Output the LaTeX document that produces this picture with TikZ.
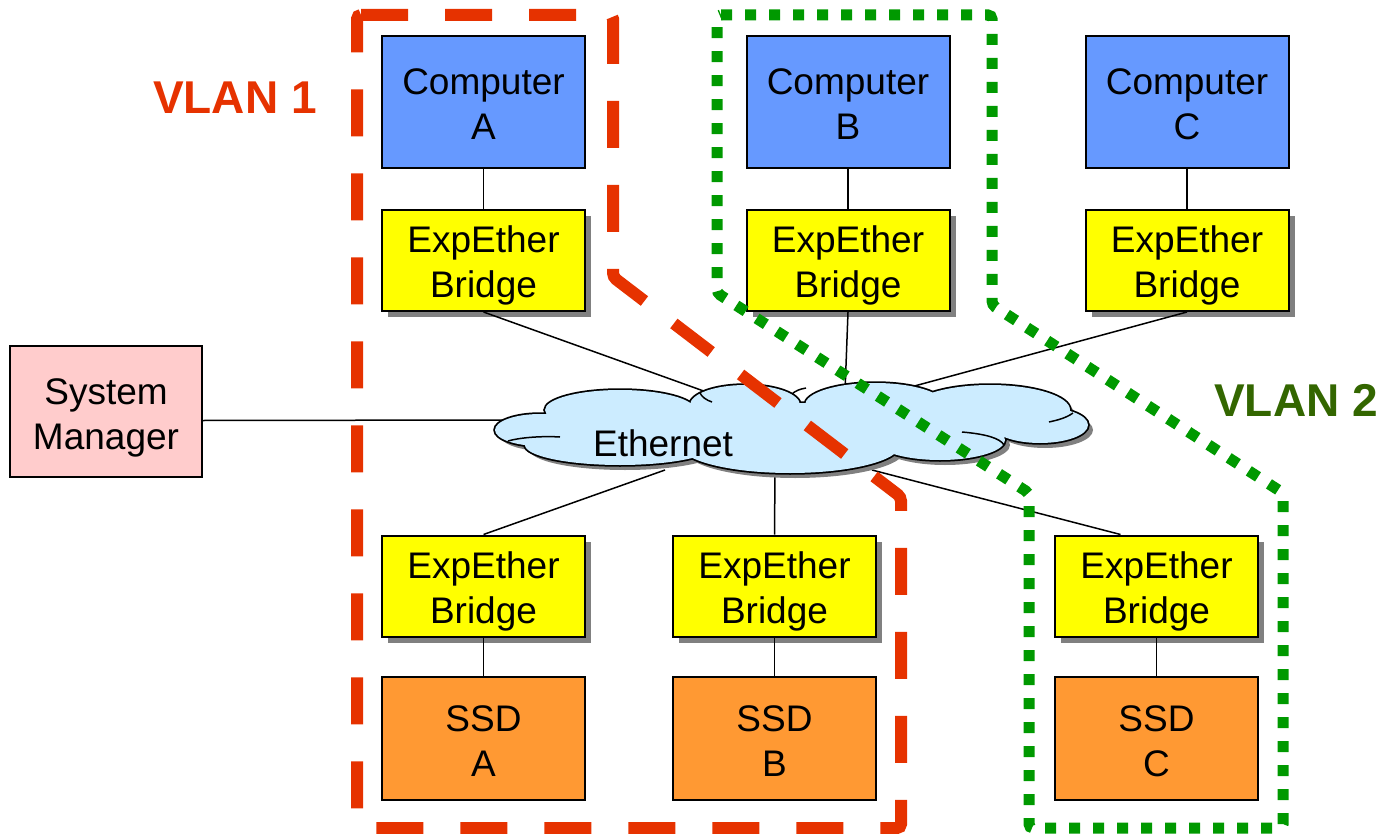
\documentclass[tikz,border=0pt]{standalone}
\usepackage{fontspec}
\setmainfont{Liberation Sans}
\usetikzlibrary{shadows}
\definecolor{compblue}{RGB}{102,153,255}
\definecolor{bridgeyellow}{RGB}{255,255,0}
\definecolor{ssdorange}{RGB}{255,153,51}
\definecolor{mgrpink}{RGB}{255,204,204}
\definecolor{cloudblue}{RGB}{204,236,255}
\definecolor{vlanred}{RGB}{230,50,0}
\definecolor{vlangreen}{RGB}{0,153,0}
\definecolor{vlantwotext}{RGB}{51,102,0}
\definecolor{shadowgray}{RGB}{128,128,128}
\newcommand\boxtext[2]{\rule{0pt}{38pt}#1\\#2\rule[-8pt]{0pt}{8pt}}
\newcommand\cloudlobes[1]{\path[#1]
  (540,430) ellipse [x radius=45pt, y radius=16pt]
  (620,410) ellipse [x radius=75pt, y radius=20pt]
  (745,405) ellipse [x radius=55pt, y radius=20pt]
  (875,405) ellipse [x radius=70pt, y radius=22pt]
  (990,410) ellipse [x radius=80pt, y radius=25pt]
  (1040,425) ellipse [x radius=48pt, y radius=18pt]
  (940,440) ellipse [x radius=65pt, y radius=20pt]
  (790,445) ellipse [x radius=110pt, y radius=28pt]
  (620,445) ellipse [x radius=95pt, y radius=20pt]
  (790,428) ellipse [x radius=230pt, y radius=25pt];}
\begin{document}
\begin{tikzpicture}[x=1pt,y=-1pt,
  box/.style={draw=black, line width=2pt, align=center, inner sep=0pt,
    font=\fontsize{37}{45}\selectfont},
  comp/.style={box, fill=compblue, minimum width=203pt, minimum height=132pt},
  bridge/.style={box, fill=bridgeyellow, minimum width=203pt, minimum height=101pt,
    drop shadow={shadow xshift=6pt, shadow yshift=-6pt, fill=shadowgray, opacity=1}},
  ssd/.style={box, fill=ssdorange, minimum width=203pt, minimum height=123pt},
  mgr/.style={box, fill=mgrpink, minimum width=192pt, minimum height=131pt},
  link/.style={draw=black, line width=1.5pt},
  vlanone/.style={draw=vlanred, line width=12pt, dash pattern=on 47pt off 37pt, rounded corners=4pt},
  vlantwo/.style={draw=vlangreen, line width=11pt, dash pattern=on 11pt off 13pt, rounded corners=4pt},
  vlanlabel/.style={font=\bfseries\fontsize{46}{52}\selectfont}
]
\useasboundingbox (0,0) rectangle (1383,834);

% nodes
\node[comp] (compA) at (483.5,102) {\boxtext{Computer}{A}};
\node[comp] (compB) at (848,102) {\boxtext{Computer}{B}};
\node[comp] (compC) at (1187,102) {\boxtext{Computer}{C}};
\node[bridge] (brA) at (483.5,260.5) {\boxtext{ExpEther}{Bridge}};
\node[bridge] (brB) at (848,260.5) {\boxtext{ExpEther}{Bridge}};
\node[bridge] (brC) at (1187,260.5) {\boxtext{ExpEther}{Bridge}};
\node[mgr] (sysm) at (106,411.5) {\boxtext{System}{Manager}};
\node[bridge] (brSA) at (483.5,586) {\boxtext{ExpEther}{Bridge}};
\node[bridge] (brSB) at (774.5,586) {\boxtext{ExpEther}{Bridge}};
\node[bridge] (brSC) at (1156.5,586) {\boxtext{ExpEther}{Bridge}};
\node[ssd] (ssdA) at (483.5,738.5) {\boxtext{SSD}{A}};
\node[ssd] (ssdB) at (774.5,738.5) {\boxtext{SSD}{B}};
\node[ssd] (ssdC) at (1156.5,738.5) {\boxtext{SSD}{C}};

% cloud attachment points
\coordinate (cA) at (712,394);
\coordinate (cB) at (845,392);
\coordinate (cC) at (885,394);
\coordinate (cM) at (505,420);
\coordinate (cSA) at (665,470);
\coordinate (cSB) at (775,470);
\coordinate (cSC) at (872,470);

% connectors
\draw[link] (compA) -- (brA);
\draw[link] (compB) -- (brB);
\draw[link] (compC) -- (brC);
\draw[link] (brA.south) -- (cA);
\draw[link] (brB.south) -- (cB);
\draw[link] (brC.south) -- (cC);
\draw[link] ([yshift=-9pt]sysm.east) -- (cM);
\draw[link] (cSA) -- (brSA.north);
\draw[link] (cSB) -- (brSB.north);
\draw[link] (cSC) -- ([xshift=-36pt]brSC.north);
\draw[link] (brSA) -- (ssdA);
\draw[link] (brSB) -- (ssdB);
\draw[link] (brSC) -- (ssdC);

% cloud
\cloudlobes{fill=shadowgray, shift={(5,5)}}
\cloudlobes{draw=black, line width=3.5pt}
\cloudlobes{fill=cloudblue}
\draw[line width=1.5pt] (508,441) .. controls (522,437) and (545,436) .. (560,437);
\draw[line width=1.5pt] (962,432) .. controls (985,434) and (1000,438) .. (1004,445);
\draw[line width=1.5pt] (1049,422) .. controls (1058,420) and (1066,418) .. (1073,413);
\draw[line width=1.5pt] (700,393) .. controls (702,397) and (706,400) .. (712,402);
\draw[line width=1.5pt] (792,394) .. controls (795,391) and (800,389) .. (806,388);
\node[font=\fontsize{37}{44}\selectfont] (eth) at (663,443) {Ethernet};

% VLAN outlines
\draw[vlanone] (357,15) -- (613,15) -- (613,277) -- (901,497) -- (901,828) -- (357,828) -- cycle;
\draw[vlantwo] (717,15) -- (992,15) -- (992,305) -- (1283,493) -- (1283,828) -- (1029,828) -- (1029,493) -- (717,293) -- cycle;

\node[vlanlabel, text=vlanred] (v1) at (235,98) {VLAN 1};
\node[vlanlabel, text=vlantwotext] (v2) at (1296,400) {VLAN 2};
\end{tikzpicture}
\end{document}
